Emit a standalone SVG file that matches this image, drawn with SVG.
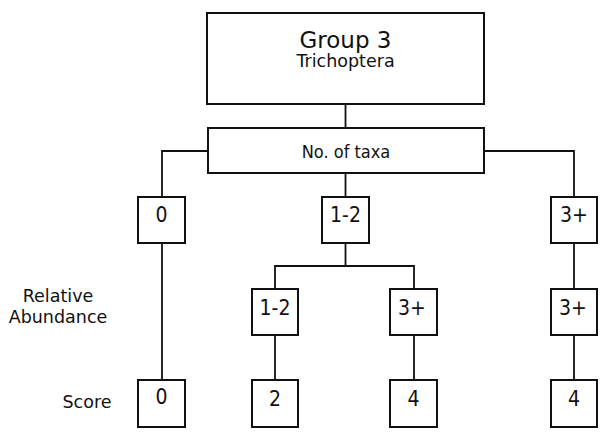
<svg xmlns="http://www.w3.org/2000/svg" width="605" height="439" viewBox="0 0 605 439">
  <style>
    .box { fill: #ffffff; stroke: #111111; stroke-width: 2; }
    .wire { fill: none; stroke: #111111; stroke-width: 1.8; }
    text { font-family: "DejaVu Sans", Verdana, sans-serif; fill: #111111; text-anchor: middle; }
    .narrow { font-family: "DejaVu Sans Condensed", "DejaVu Sans", sans-serif; font-stretch: condensed; }
    .title { font-size: 23px; }
    .sub { font-size: 17.5px; }
    .lbl { font-size: 18px; }
    .val { font-size: 21px; }
    .side { font-size: 17.5px; }
  </style>
  <rect width="605" height="439" fill="#ffffff"/>

  <!-- connectors -->
  <g id="connectors">
    <path class="wire" d="M345.5 104 V128"/>
    <path class="wire" d="M208 151 H162 V197"/>
    <path class="wire" d="M345.5 173 V197"/>
    <path class="wire" d="M484 151 H574 V197"/>
    <path class="wire" d="M162 243 V380"/>
    <path class="wire" d="M345.5 243 V266"/>
    <path class="wire" d="M275 289 V266 H414 V289"/>
    <path class="wire" d="M275 335 V380"/>
    <path class="wire" d="M414 335 V380"/>
    <path class="wire" d="M574 243 V289"/>
    <path class="wire" d="M574 335 V380"/>
  </g>

  <!-- header -->
  <g id="group3">
    <rect class="box" x="207" y="13" width="277" height="91"/>
    <text class="title" x="345.5" y="48">Group 3</text>
    <text class="sub" x="345.5" y="67">Trichoptera</text>
  </g>
  <g id="taxa">
    <rect class="box" x="208" y="128" width="276" height="45"/>
    <text class="lbl narrow" x="346" y="158">No. of taxa</text>
  </g>

  <!-- number of taxa -->
  <g id="taxa-0">
    <rect class="box" x="138" y="197" width="47" height="46"/>
    <text class="val narrow" x="161.5" y="222">0</text>
  </g>
  <g id="taxa-1-2">
    <rect class="box" x="322" y="197" width="47" height="46"/>
    <text class="val narrow" x="345.5" y="222">1-2</text>
  </g>
  <g id="taxa-3plus">
    <rect class="box" x="551" y="197" width="46" height="46"/>
    <text class="val narrow" x="574" y="222">3+</text>
  </g>

  <!-- relative abundance -->
  <g id="abund-1-2">
    <rect class="box" x="252" y="289" width="46" height="46"/>
    <text class="val narrow" x="275" y="315">1-2</text>
  </g>
  <g id="abund-3plus-a">
    <rect class="box" x="390" y="289" width="47" height="46"/>
    <text class="val narrow" x="412" y="315">3+</text>
  </g>
  <g id="abund-3plus-b">
    <rect class="box" x="551" y="289" width="46" height="46"/>
    <text class="val narrow" x="573" y="315">3+</text>
  </g>

  <!-- scores -->
  <g id="score-0">
    <rect class="box" x="138" y="380" width="47" height="47"/>
    <text class="val narrow" x="161.5" y="404">0</text>
  </g>
  <g id="score-2">
    <rect class="box" x="252" y="380" width="46" height="47"/>
    <text class="val narrow" x="275" y="406">2</text>
  </g>
  <g id="score-4a">
    <rect class="box" x="390" y="380" width="47" height="47"/>
    <text class="val narrow" x="413.5" y="406">4</text>
  </g>
  <g id="score-4b">
    <rect class="box" x="551" y="380" width="46" height="47"/>
    <text class="val narrow" x="574" y="406">4</text>
  </g>

  <!-- row captions -->
  <g id="row-labels">
    <text class="side" x="58" y="302">Relative</text>
    <text class="side" x="58" y="323">Abundance</text>
    <text class="side" x="87" y="408">Score</text>
  </g>
</svg>
